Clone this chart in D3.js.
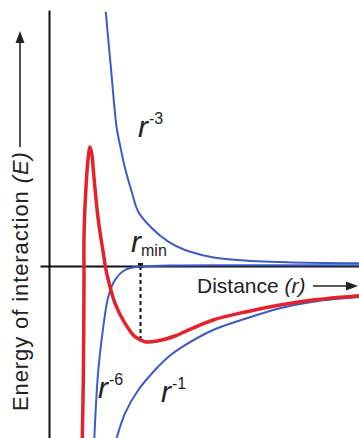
<!DOCTYPE html>
<html>
<head>
<meta charset="utf-8">
<script src="https://cdn.jsdelivr.net/npm/d3@7"></script>
<style>
  body { margin: 0; background: #fff; }
  text { font-family: "Liberation Sans", Arial, sans-serif; fill: #222; }
</style>
</head>
<body>
<script>
// Curves: [distance, energy] in arbitrary units
const repulsion3 = [[5.67, 25.43], [6.18, 19.93], [6.77, 13.8], [7.1, 12.1], [7.6, 9.8],
  [8.27, 7.43], [8.93, 5.43], [10.27, 3.8], [11.93, 2.43], [13.6, 1.6], [16.1, 0.93],
  [18.77, 0.6], [23.77, 0.37], [31, 0.27]];
const attraction6 = [[4.53, -17.2], [4.67, -14.4], [4.93, -10.4], [5.43, -6.07], [5.93, -3.07],
  [6.6, -1.4], [7.6, -0.4], [8.93, -0.08], [12, 0.05], [20, 0.08], [31, 0.08]];
const attraction1 = [[6.77, -17.2], [7.6, -14.73], [8.93, -12.4], [10.6, -10.4], [12.1, -8.95],
  [13.1, -8.23], [16.4, -6.4], [19.77, -5.23], [23.1, -4.23], [26.4, -3.57], [31, -3.1]];
const total = [[3.33, -17.2], [3.43, -11.4], [3.5, -1.4], [3.5, 2.9], [3.7, 7.9], [3.9, 10.6],
  [4.1, 11.9], [4.3, 11.1], [4.43, 9.6], [4.93, 4.6], [5.43, 1.3], [5.7, -0.4], [5.93, -1.4],
  [6.6, -3.73], [7.6, -5.73], [8.6, -7.07], [9.6, -7.57], [10.93, -7.47], [12.6, -7.0],
  [13.6, -6.57], [16.4, -5.4], [19.77, -4.57], [23.1, -3.9], [26.4, -3.4], [31, -2.97]];
const rMin = 9.15;

const width = 359, height = 438;
const blue = "#3b5cc6", red = "#e5222b";

const svg = d3.select("body").append("svg")
  .attr("width", width)
  .attr("height", height);

const x = d3.scaleLinear().domain([-0.9, 31]).range([40, 359]);
const y = d3.scaleLinear().domain([-17.2, 25.6]).range([438, 10]);

// axes without ticks
svg.append("g")
  .attr("transform", "translate(0," + y(0) + ")")
  .call(d3.axisBottom(x).tickValues([]).tickSizeOuter(0))
  .select(".domain").attr("stroke", "#111").attr("stroke-width", 2);
svg.append("g")
  .attr("transform", "translate(" + x(0) + ",0)")
  .call(d3.axisLeft(y).tickValues([]).tickSizeOuter(0))
  .select(".domain").attr("stroke", "#111").attr("stroke-width", 2);

// r_min marker, down to the bottom of the well
const wellMin = d3.min(total.filter(d => d[0] > 5), d => d[1]);
svg.append("line")
  .attr("x1", x(rMin)).attr("x2", x(rMin))
  .attr("y1", y(0)).attr("y2", y(wellMin))
  .attr("stroke", "#111").attr("stroke-width", 2)
  .attr("stroke-dasharray", "4,3");
svg.append("rect")
  .attr("x", x(rMin) - 2.5).attr("y", y(0) - 3)
  .attr("width", 5).attr("height", 5)
  .attr("fill", "#111");

const line = d3.line()
  .x(d => x(d[0]))
  .y(d => y(d[1]))
  .curve(d3.curveCatmullRom.alpha(0.5));

[repulsion3, attraction1, attraction6].forEach(c => {
  svg.append("path")
    .attr("d", line(c))
    .attr("fill", "none")
    .attr("stroke", blue)
    .attr("stroke-width", 2);
});

svg.append("path")
  .attr("d", line(total))
  .attr("fill", "none")
  .attr("stroke", red)
  .attr("stroke-width", 3.5)
  .attr("stroke-linejoin", "round");

// power labels
function powerLabel(px, py, sup, sub) {
  const t = svg.append("text").attr("x", px).attr("y", py);
  t.append("tspan").attr("font-size", 30).attr("font-style", "italic").text("r");
  if (sup) t.append("tspan").attr("font-size", 16).attr("dx", 1).attr("dy", -13).text(sup);
  if (sub) t.append("tspan").attr("font-size", 16).attr("dx", 0).attr("dy", 4).text(sub);
}
powerLabel(138, 137, "-3");
powerLabel(98, 398, "-6");
powerLabel(161, 402, "-1");
powerLabel(131, 252, null, "min");

// x label with arrow
const xl = svg.append("text")
  .attr("x", 197).attr("y", 293)
  .attr("font-size", 21);
xl.append("tspan").text("Distance ");
xl.append("tspan").attr("font-style", "italic").text("(r)");
svg.append("line")
  .attr("x1", 313).attr("x2", 348).attr("y1", 286).attr("y2", 286)
  .attr("stroke", "#222").attr("stroke-width", 1.6);
svg.append("path")
  .attr("d", "M358,286L346,281.5L346,290.5Z")
  .attr("fill", "#222");

// y label with arrow
const yl = svg.append("text")
  .attr("transform", "translate(28,411) rotate(-90)")
  .attr("font-size", 22)
  .attr("letter-spacing", 0.9);
yl.append("tspan").text("Energy of interaction ");
yl.append("tspan").attr("font-style", "italic").text("(E)");
svg.append("line")
  .attr("x1", 20).attr("x2", 20).attr("y1", 147).attr("y2", 41)
  .attr("stroke", "#222").attr("stroke-width", 1.6);
svg.append("path")
  .attr("d", "M20,31L15.5,43L24.5,43Z")
  .attr("fill", "#222");
</script>
</body>
</html>
